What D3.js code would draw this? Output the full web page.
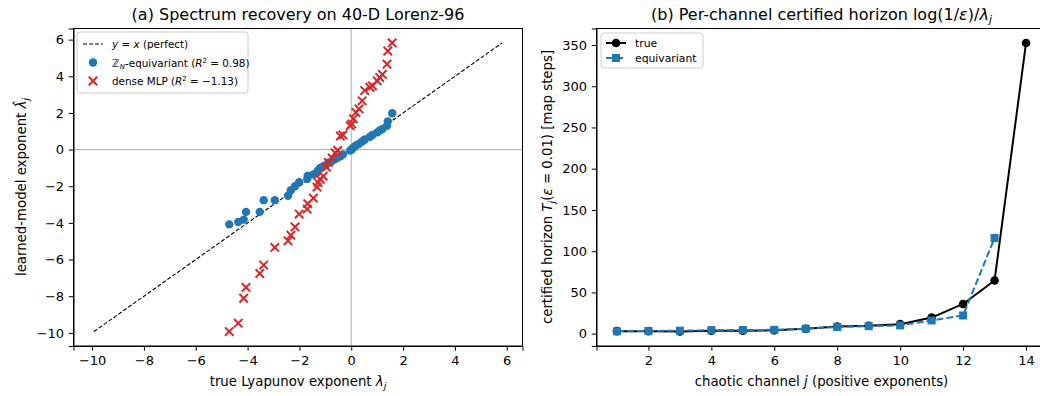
<!DOCTYPE html>
<html>
<head>
<meta charset="utf-8">
<script src="https://cdn.jsdelivr.net/npm/d3@7"></script>
<style>
  body { margin: 0; background: #fff; }
  svg text { font-family: "DejaVu Sans", sans-serif; fill: #000; }
</style>
</head>
<body>
<svg id="fig" width="1040" height="396"></svg>
<script>
// panel (a): true vs learned Lyapunov exponents
const trueLam = [1.58, 1.41, 1.38, 1.20, 1.10, 1.00, 0.82, 0.72, 0.52, 0.42, 0.30, 0.18, 0.08, 0.02,
  -0.04, -0.32, -0.42, -0.52, -0.62, -0.74, -0.88, -0.96, -1.08, -1.20, -1.28, -1.32, -1.46,
  -1.68, -1.70, -2.01, -2.17, -2.33, -2.44, -2.95, -3.38, -3.53, -4.06, -4.15, -4.36, -4.71];
const equivLam = [1.98, 1.54, 1.30, 1.12, 1.04, 0.94, 0.80, 0.70, 0.55, 0.44, 0.32, 0.22, 0.10, 0.02,
  -0.05, -0.26, -0.36, -0.44, -0.52, -0.62, -0.72, -0.82, -0.92, -1.00, -1.14, -1.24, -1.36,
  -1.42, -1.60, -1.78, -2.00, -2.22, -2.52, -2.76, -2.76, -3.40, -3.40, -3.82, -3.95, -4.08];
const mlpLam = [5.82, 5.38, 4.66, 4.10, 3.93, 3.75, 3.48, 3.40, 3.22, 2.66, 2.22, 2.03, 1.68, 1.40,
  1.30, 0.80, 0.74, -0.05, -0.18, -0.46, -0.70, -0.95, -1.45, -1.62, -1.80, -2.05, -2.65,
  -2.95, -3.25, -3.52, -4.22, -4.67, -4.98, -5.34, -6.30, -6.76, -7.52, -8.11, -9.47, -9.93];
const ticksA = [-10, -8, -6, -4, -2, 0, 2, 4, 6];

// panel (b): certified horizon per chaotic channel
const channels = [1, 2, 3, 4, 5, 6, 7, 8, 9, 10, 11, 12, 13, 14];
const horizonTrue = [3, 3, 2.5, 3.5, 3.5, 4, 6, 8.5, 9.5, 11.5, 19.5, 36, 64.5, 352.5];
const horizonEquiv = [2.8, 3.2, 3.6, 4.2, 4.4, 4.6, 6, 8, 9, 10, 16, 22, 116];
const ticksBx = [2, 4, 6, 8, 10, 12, 14];
const ticksBy = [0, 50, 100, 150, 200, 250, 300, 350];

const BLUE = "#1f77b4", RED = "#d62728";
const TICK = 13, LABEL = 13.3, TITLE = 16;
const svg = d3.select("#fig");

function pad(lo, hi) { const m = (hi - lo) * 0.05; return [lo - m, hi + m]; }

function styleAxis(g) {
  g.selectAll("path").attr("stroke", "#000").attr("stroke-width", 1);
  g.selectAll("line").attr("stroke", "#000").attr("stroke-width", 1);
  g.selectAll("text").attr("font-size", TICK).attr("fill", "#000");
}

// ---------- panel (a) ----------
const A = { l: 73.5, r: 522.5, t: 28.5, b: 346 };
const lo = d3.min(mlpLam), hi = d3.max(mlpLam);
const xA = d3.scaleLinear().domain(pad(lo, hi)).range([A.l, A.r]);
const yA = d3.scaleLinear().domain(pad(lo, hi)).range([A.b, A.t]);

const gA = svg.append("g");
gA.append("line").attr("x1", xA(0)).attr("x2", xA(0)).attr("y1", A.t).attr("y2", A.b)
  .attr("stroke", "#b0b0b0").attr("stroke-width", 1);
gA.append("line").attr("x1", A.l).attr("x2", A.r).attr("y1", yA(0)).attr("y2", yA(0))
  .attr("stroke", "#b0b0b0").attr("stroke-width", 1);

gA.append("line").attr("x1", xA(lo)).attr("y1", yA(lo)).attr("x2", xA(hi)).attr("y2", yA(hi))
  .attr("stroke", "#000").attr("stroke-width", 1.1).attr("stroke-dasharray", "4,2");

gA.selectAll("circle.eq").data(trueLam).enter().append("circle")
  .attr("cx", d => xA(d)).attr("cy", (d, i) => yA(equivLam[i])).attr("r", 4.2).attr("fill", BLUE);

const cross = d3.symbol().type(d3.symbolX).size(48);
gA.selectAll("path.mlp").data(trueLam).enter().append("path")
  .attr("d", cross)
  .attr("transform", (d, i) => `translate(${xA(d)},${yA(mlpLam[i])})`)
  .attr("fill", "none").attr("stroke", RED).attr("stroke-width", 2);

gA.append("g").attr("transform", `translate(0,${A.b})`)
  .call(d3.axisBottom(xA).tickValues(ticksA).tickSize(4.7).tickPadding(4.7)).call(styleAxis);
gA.append("g").attr("transform", `translate(${A.l},0)`)
  .call(d3.axisLeft(yA).tickValues(ticksA).tickSize(4.7).tickPadding(4.7)).call(styleAxis);
gA.append("rect").attr("x", A.l).attr("y", A.t).attr("width", A.r - A.l).attr("height", A.b - A.t)
  .attr("fill", "none").attr("stroke", "#000").attr("stroke-width", 1);

gA.append("text").attr("x", (A.l + A.r) / 2).attr("y", 20).attr("text-anchor", "middle")
  .attr("font-size", TITLE).text("(a) Spectrum recovery on 40-D Lorenz-96");

const xlabA = gA.append("text").attr("x", (A.l + A.r) / 2).attr("y", 386).attr("text-anchor", "middle").attr("font-size", LABEL);
xlabA.append("tspan").text("true Lyapunov exponent ");
xlabA.append("tspan").attr("font-style", "italic").text("λ");
xlabA.append("tspan").attr("font-style", "italic").attr("font-size", 9.5).attr("dy", 3).text("j");

const ylabA = gA.append("text").attr("transform", "translate(26,187) rotate(-90)").attr("text-anchor", "middle").attr("font-size", LABEL);
ylabA.append("tspan").text("learned-model exponent ");
ylabA.append("tspan").attr("font-style", "italic").text("λ\u0302");
ylabA.append("tspan").attr("font-style", "italic").attr("font-size", 9.5).attr("dy", 3).text("j");

// legend (a)
const legA = gA.append("g").attr("transform", "translate(77,32)");
legA.append("rect").attr("width", 171).attr("height", 61).attr("rx", 3)
  .attr("fill", "#fff").attr("fill-opacity", 0.8).attr("stroke", "#ccc").attr("stroke-width", 1);
legA.append("line").attr("x1", 6).attr("x2", 26).attr("y1", 12).attr("y2", 12)
  .attr("stroke", "#000").attr("stroke-width", 1.1).attr("stroke-dasharray", "4,2");
legA.append("circle").attr("cx", 16).attr("cy", 30.5).attr("r", 4.2).attr("fill", BLUE);
legA.append("path").attr("d", cross).attr("transform", "translate(16,49)")
  .attr("fill", "none").attr("stroke", RED).attr("stroke-width", 2);
const LEG = 10.4;
const l1 = legA.append("text").attr("x", 35).attr("y", 16).attr("font-size", LEG);
l1.append("tspan").attr("font-style", "italic").text("y");
l1.append("tspan").text(" = ");
l1.append("tspan").attr("font-style", "italic").text("x");
l1.append("tspan").text(" (perfect)");
const l2 = legA.append("text").attr("x", 35).attr("y", 34.5).attr("font-size", LEG);
l2.append("tspan").text("ℤ");
l2.append("tspan").attr("font-style", "italic").attr("font-size", 7).attr("dy", 2).text("N");
l2.append("tspan").attr("dy", -2).text("-equivariant (");
l2.append("tspan").attr("font-style", "italic").text("R");
l2.append("tspan").attr("font-size", 7).attr("dy", -4).text("2");
l2.append("tspan").attr("dy", 4).text(" = 0.98)");
const l3 = legA.append("text").attr("x", 35).attr("y", 53).attr("font-size", LEG);
l3.append("tspan").text("dense MLP (");
l3.append("tspan").attr("font-style", "italic").text("R");
l3.append("tspan").attr("font-size", 7).attr("dy", -4).text("2");
l3.append("tspan").attr("dy", 4).text(" = −1.13)");

// ---------- panel (b) ----------
const B = { l: 596.5, r: 1046.5, t: 28.5, b: 346 };
const xB = d3.scaleLinear().domain(pad(d3.min(channels), d3.max(channels))).range([B.l, B.r]);
const allH = horizonTrue.concat(horizonEquiv);
const yB = d3.scaleLinear().domain(pad(d3.min(allH), d3.max(allH))).range([B.b, B.t]);

const gB = svg.append("g");
gB.append("g").attr("transform", `translate(0,${B.b})`)
  .call(d3.axisBottom(xB).tickValues(ticksBx).tickSize(4.7).tickPadding(4.7)).call(styleAxis);
gB.append("g").attr("transform", `translate(${B.l},0)`)
  .call(d3.axisLeft(yB).tickValues(ticksBy).tickSize(4.7).tickPadding(4.7)).call(styleAxis);
gB.append("rect").attr("x", B.l).attr("y", B.t).attr("width", B.r - B.l).attr("height", B.b - B.t)
  .attr("fill", "none").attr("stroke", "#000").attr("stroke-width", 1);

const lineB = d3.line().x(d => xB(d[0])).y(d => yB(d[1]));
const trueData = channels.map((c, i) => [c, horizonTrue[i]]);
const eqData = channels.slice(0, horizonEquiv.length).map((c, i) => [c, horizonEquiv[i]]);

gB.append("path").datum(trueData).attr("d", lineB).attr("fill", "none").attr("stroke", "#000").attr("stroke-width", 2);
gB.selectAll("circle.t").data(trueData).enter().append("circle")
  .attr("cx", d => xB(d[0])).attr("cy", d => yB(d[1])).attr("r", 4.3).attr("fill", "#000");
gB.append("path").datum(eqData).attr("d", lineB).attr("fill", "none").attr("stroke", BLUE)
  .attr("stroke-width", 2).attr("stroke-dasharray", "7,3");
gB.selectAll("rect.e").data(eqData).enter().append("rect")
  .attr("x", d => xB(d[0]) - 4).attr("y", d => yB(d[1]) - 4).attr("width", 8).attr("height", 8).attr("fill", BLUE);

gB.append("text").attr("x", (B.l + B.r) / 2).attr("y", 20).attr("text-anchor", "middle").attr("font-size", TITLE)
  .call(t => {
    t.append("tspan").text("(b) Per-channel certified horizon log(1/");
    t.append("tspan").attr("font-style", "italic").text("ε");
    t.append("tspan").text(")/");
    t.append("tspan").attr("font-style", "italic").text("λ");
    t.append("tspan").attr("font-style", "italic").attr("font-size", 11).attr("dy", 3).text("j");
  });

const xlabB = gB.append("text").attr("x", (B.l + B.r) / 2).attr("y", 386).attr("text-anchor", "middle").attr("font-size", LABEL);
xlabB.append("tspan").text("chaotic channel ");
xlabB.append("tspan").attr("font-style", "italic").text("j");
xlabB.append("tspan").text(" (positive exponents)");

const ylabB = gB.append("text").attr("transform", "translate(552,187) rotate(-90)").attr("text-anchor", "middle").attr("font-size", LABEL);
ylabB.append("tspan").text("certified horizon ");
ylabB.append("tspan").attr("font-style", "italic").text("T");
ylabB.append("tspan").attr("font-style", "italic").attr("font-size", 9.5).attr("dy", 3).text("j");
ylabB.append("tspan").attr("dy", -3).text("(");
ylabB.append("tspan").attr("font-style", "italic").text("ε");
ylabB.append("tspan").text(" = 0.01) [map steps]");

// legend (b)
const legB = gB.append("g").attr("transform", "translate(601,33)");
legB.append("rect").attr("width", 102).attr("height", 35).attr("rx", 3)
  .attr("fill", "#fff").attr("fill-opacity", 0.8).attr("stroke", "#ccc").attr("stroke-width", 1);
legB.append("line").attr("x1", 5).attr("x2", 25).attr("y1", 10).attr("y2", 10).attr("stroke", "#000").attr("stroke-width", 2);
legB.append("circle").attr("cx", 15).attr("cy", 10).attr("r", 4.3).attr("fill", "#000");
legB.append("line").attr("x1", 5).attr("x2", 25).attr("y1", 25).attr("y2", 25).attr("stroke", BLUE)
  .attr("stroke-width", 2).attr("stroke-dasharray", "7,3");
legB.append("rect").attr("x", 11).attr("y", 21).attr("width", 8).attr("height", 8).attr("fill", BLUE);
legB.append("text").attr("x", 34).attr("y", 14).attr("font-size", 10.8).text("true");
legB.append("text").attr("x", 34).attr("y", 29).attr("font-size", 10.8).text("equivariant");
</script>
</body>
</html>
